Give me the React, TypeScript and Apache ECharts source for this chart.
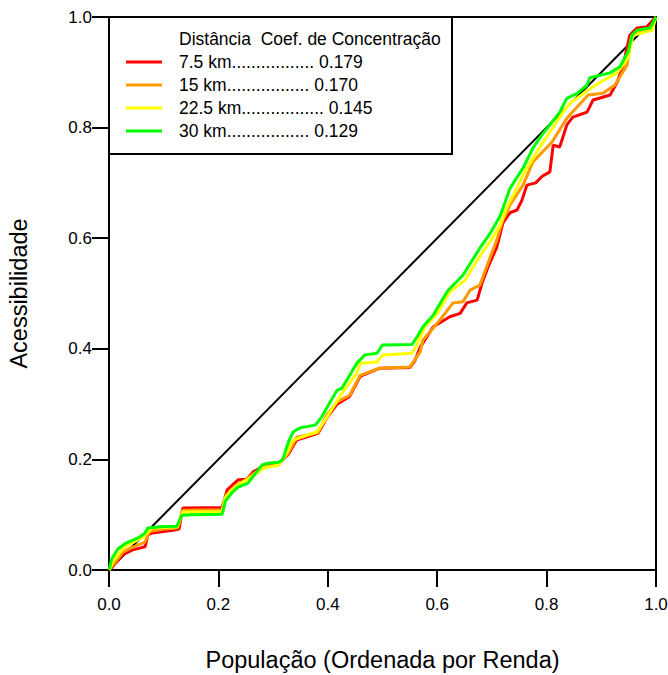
import React, { useEffect, useRef } from "react";
import * as echarts from "echarts";

const xTicks = [0, 0.2, 0.4, 0.6, 0.8, 1.0];

const equality: [number, number][] = [[0, 0], [1, 1]];

const red75: [number, number][] = [
  [0, 0], [0.005, 0.004], [0.024, 0.027], [0.042, 0.036], [0.066, 0.042], [0.071, 0.063], [0.079, 0.067],
  [0.117, 0.072], [0.128, 0.074], [0.135, 0.112], [0.207, 0.113], [0.216, 0.145], [0.236, 0.163], [0.252, 0.164],
  [0.263, 0.177], [0.285, 0.19], [0.31, 0.192], [0.318, 0.2], [0.327, 0.208], [0.343, 0.235], [0.382, 0.247],
  [0.398, 0.275], [0.417, 0.3], [0.44, 0.314], [0.459, 0.35], [0.495, 0.365], [0.55, 0.366], [0.559, 0.378],
  [0.569, 0.403], [0.593, 0.44], [0.623, 0.458], [0.642, 0.464], [0.654, 0.483], [0.673, 0.488], [0.682, 0.519],
  [0.693, 0.548], [0.709, 0.584], [0.72, 0.627], [0.733, 0.646], [0.746, 0.651], [0.755, 0.669], [0.764, 0.696],
  [0.78, 0.7], [0.792, 0.712], [0.806, 0.72], [0.812, 0.768], [0.824, 0.765], [0.837, 0.805], [0.848, 0.819],
  [0.874, 0.828], [0.885, 0.85], [0.916, 0.859], [0.929, 0.882], [0.94, 0.913], [0.952, 0.967], [0.965, 0.98],
  [0.983, 0.982], [1, 1],
];

const orange15: [number, number][] = [
  [0, 0], [0.01, 0.012], [0.025, 0.032], [0.04, 0.04], [0.065, 0.05], [0.075, 0.07], [0.1, 0.074], [0.125, 0.076],
  [0.135, 0.108], [0.207, 0.109], [0.214, 0.135], [0.23, 0.152], [0.25, 0.163], [0.265, 0.175], [0.285, 0.187],
  [0.31, 0.19], [0.318, 0.2], [0.327, 0.21], [0.343, 0.24], [0.382, 0.248], [0.398, 0.28], [0.417, 0.304],
  [0.44, 0.316], [0.459, 0.352], [0.495, 0.365], [0.55, 0.367], [0.559, 0.38], [0.569, 0.395], [0.574, 0.416],
  [0.601, 0.447], [0.629, 0.483], [0.647, 0.485], [0.66, 0.506], [0.678, 0.515], [0.697, 0.566], [0.709, 0.597],
  [0.72, 0.633], [0.733, 0.66], [0.757, 0.696], [0.775, 0.738], [0.81, 0.774], [0.837, 0.817], [0.876, 0.859],
  [0.903, 0.862], [0.925, 0.877], [0.947, 0.913], [0.956, 0.967], [0.99, 0.978], [1, 1],
];

const yellow225: [number, number][] = [
  [0, 0], [0.007, 0.015], [0.02, 0.032], [0.029, 0.042], [0.06, 0.058], [0.079, 0.076], [0.1, 0.077],
  [0.125, 0.078], [0.135, 0.105], [0.207, 0.106], [0.212, 0.13], [0.225, 0.145], [0.236, 0.154], [0.261, 0.168],
  [0.282, 0.184], [0.31, 0.19], [0.318, 0.2], [0.337, 0.235], [0.38, 0.25], [0.395, 0.271], [0.426, 0.32],
  [0.453, 0.356], [0.459, 0.374], [0.49, 0.376], [0.5, 0.389], [0.554, 0.392], [0.563, 0.407], [0.572, 0.428],
  [0.578, 0.44], [0.6, 0.464], [0.623, 0.503], [0.651, 0.524], [0.673, 0.56], [0.702, 0.602], [0.715, 0.624],
  [0.727, 0.655], [0.739, 0.678], [0.76, 0.72], [0.782, 0.756], [0.806, 0.792], [0.83, 0.828], [0.843, 0.844],
  [0.876, 0.868], [0.898, 0.882], [0.929, 0.899], [0.949, 0.926], [0.958, 0.967], [0.993, 0.976], [1, 1],
];

const green30: [number, number][] = [
  [0, 0], [0.005, 0.02], [0.016, 0.038], [0.03, 0.048], [0.053, 0.058], [0.065, 0.066], [0.071, 0.076],
  [0.093, 0.078], [0.124, 0.079], [0.133, 0.099], [0.15, 0.1], [0.207, 0.101], [0.213, 0.125], [0.225, 0.14],
  [0.236, 0.15], [0.254, 0.157], [0.268, 0.175], [0.28, 0.19], [0.29, 0.193], [0.31, 0.195], [0.318, 0.2],
  [0.328, 0.232], [0.337, 0.25], [0.349, 0.257], [0.377, 0.262], [0.389, 0.277], [0.405, 0.305], [0.417, 0.325],
  [0.426, 0.329], [0.44, 0.352], [0.453, 0.374], [0.468, 0.389], [0.49, 0.392], [0.5, 0.407], [0.554, 0.408],
  [0.563, 0.421], [0.574, 0.44], [0.593, 0.461], [0.61, 0.49], [0.62, 0.506], [0.647, 0.533], [0.664, 0.56],
  [0.678, 0.582], [0.697, 0.609], [0.715, 0.64], [0.733, 0.69], [0.757, 0.727], [0.775, 0.763], [0.79, 0.785],
  [0.806, 0.805], [0.824, 0.828], [0.837, 0.853], [0.856, 0.862], [0.874, 0.877], [0.879, 0.89], [0.916, 0.899],
  [0.934, 0.91], [0.949, 0.937], [0.956, 0.967], [0.965, 0.976], [0.989, 0.98], [1, 1],
];

const legendHeader = "Distância  Coef. de Concentração";
const legendLabels = [
  "7.5 km................. 0.179",
  "15 km................. 0.170",
  "22.5 km................. 0.145",
  "30 km................. 0.129",
];
const seriesNames = ["7.5 km", "15 km", "22.5 km", "30 km"];
const seriesColors = ["#ff0000", "#ff9900", "#ffff00", "#00ff00"];
const seriesData = [red75, orange15, yellow225, green30];

const FONT = "'Liberation Sans', Arial, sans-serif";

export default function App() {
  const ref = useRef<HTMLDivElement>(null);
  useEffect(() => {
    if (!ref.current) return;
    const chart = echarts.init(ref.current, null, { renderer: "svg" });
    const legendX = 109;
    const legendY = 17;
    const rowY0 = 62;
    const rowStep = 23;
    const graphic: any[] = [
      {
        type: "rect",
        shape: { x: legendX, y: legendY, width: 343, height: 137 },
        style: { fill: "#fff", stroke: "#000", lineWidth: 2 },
        z: 10,
      },
      {
        type: "text",
        x: 179,
        y: 39,
        style: { text: legendHeader, fill: "#000", font: `17.5px ${FONT}`, verticalAlign: "middle" },
        z: 11,
      },
    ];
    legendLabels.forEach((lab, i) => {
      const y = rowY0 + i * rowStep;
      graphic.push({
        type: "line",
        shape: { x1: 126, y1: y, x2: 162, y2: y },
        style: { stroke: seriesColors[i], lineWidth: 3 },
        z: 11,
      });
      graphic.push({
        type: "text",
        x: 179,
        y,
        style: { text: lab, fill: "#000", font: `17.5px ${FONT}`, verticalAlign: "middle" },
        z: 11,
      });
    });

    const axisCommon = {
      type: "value" as const,
      min: 0,
      max: 1,
      interval: 0.2,
      nameLocation: "middle" as const,
      nameTextStyle: { fontFamily: FONT, fontSize: 23.5, color: "#000" },
      axisLine: { show: true, onZero: false, lineStyle: { color: "#000", width: 2 } },
      axisTick: { show: true, inside: false, length: 17, lineStyle: { color: "#000", width: 2 } },
      splitLine: { show: false },
    };

    chart.setOption({
      animation: false,
      backgroundColor: "#fff",
      grid: {
        left: 109,
        right: 12,
        top: 17,
        bottom: 105,
        containLabel: false,
        outerBoundsMode: "none",
        show: true,
        borderColor: "#000",
        borderWidth: 2,
        backgroundColor: "transparent",
      },
      xAxis: {
        ...axisCommon,
        name: "População (Ordenada por Renda)",
        nameGap: 78,
        axisLabel: {
          margin: 26,
          fontFamily: FONT,
          fontSize: 17,
          color: "#000",
          formatter: (v: number) => v.toFixed(1),
          customValues: xTicks,
        },
      },
      yAxis: {
        ...axisCommon,
        name: "Acessibilidade",
        nameGap: 78,
        axisLabel: {
          margin: 17,
          fontFamily: FONT,
          fontSize: 17,
          color: "#000",
          formatter: (v: number) => v.toFixed(1),
        },
      },
      graphic,
      series: [
        {
          type: "line",
          name: "Igualdade",
          data: equality,
          symbol: "none",
          lineStyle: { color: "#000", width: 2 },
          z: 2,
        },
        ...seriesData.map((d, i) => ({
          type: "line",
          name: seriesNames[i],
          data: d,
          symbol: "none",
          lineStyle: { color: seriesColors[i], width: 3 },
          z: 3 + i,
        })),
      ],
    });
    return () => chart.dispose();
  }, []);
  return (
    <div
      ref={ref}
      style={{ position: "absolute", left: 0, top: 0, width: 668, height: 675 }}
    />
  );
}
